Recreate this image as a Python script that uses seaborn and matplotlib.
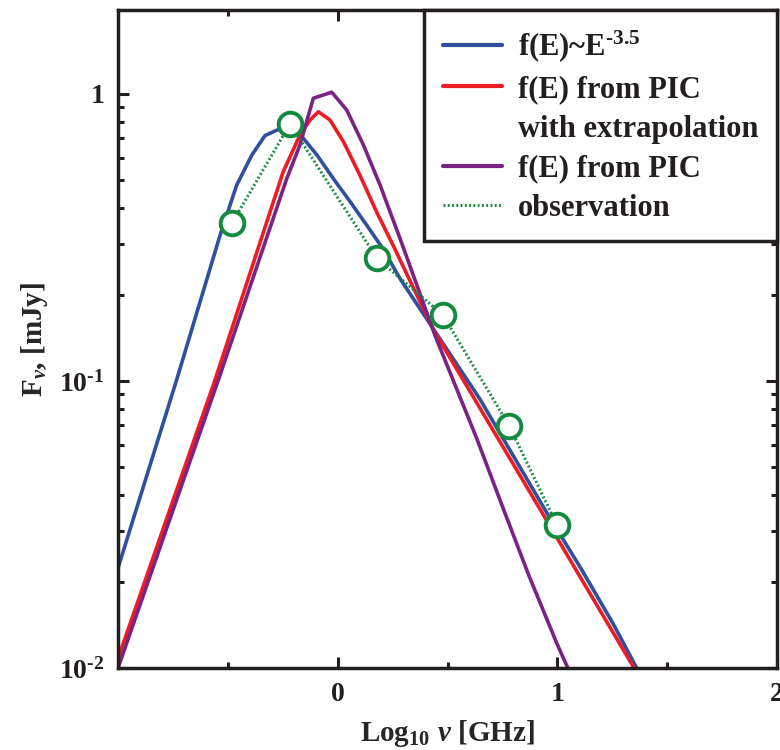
import numpy as np
import pandas as pd
import matplotlib
matplotlib.use("Agg")
import matplotlib.pyplot as plt
from matplotlib.lines import Line2D
from matplotlib.ticker import FixedLocator, LogLocator, NullFormatter
import seaborn as sns

# ==============================================================================
# DADOS
# ==============================================================================
# f(E) ~ E^-3.5
x_pl = [-1.0, -0.733, -0.536, -0.460, -0.391, -0.331, -0.277, -0.217, -0.156,
        -0.094, -0.020, 0.056, 0.133, 0.207, 0.284, 0.435, 0.648, 0.951,
        1.103, 1.253, 1.361, 1.45]
f_pl = [0.0223, 0.101, 0.321, 0.481, 0.612, 0.716, 0.748, 0.780, 0.700,
        0.612, 0.507, 0.422, 0.348, 0.288, 0.227, 0.152, 0.0863, 0.0348,
        0.0225, 0.0143, 0.0100, 0.0077]

# f(E) from PIC with extrapolation
x_ext = [-1.0, -0.558, -0.248, -0.172, -0.126, -0.088, -0.035, 0.026, 0.101,
         0.177, 0.253, 0.435, 0.951, 1.349, 1.45]
f_ext = [0.0108, 0.101, 0.536, 0.719, 0.811, 0.867, 0.811, 0.682, 0.521,
         0.388, 0.296, 0.151, 0.0327, 0.0100, 0.0074]

# f(E) from PIC
x_pic = [-1.0, -0.543, -0.232, -0.172, -0.111, -0.088, -0.027, 0.041, 0.117,
         0.193, 0.284, 0.443, 0.633, 0.746, 0.868, 0.997, 1.050, 1.10]
f_pic = [0.0100, 0.101, 0.507, 0.664, 0.966, 0.979, 1.014, 0.879, 0.664,
         0.481, 0.313, 0.144, 0.0630, 0.0372, 0.0212, 0.0122, 0.0099, 0.0080]

# observation
x_obs = [-0.480, -0.217, 0.178, 0.478, 0.781, 0.997]
f_obs = [0.356, 0.786, 0.268, 0.170, 0.0697, 0.0316]

# rotulos
legend_labels = [
    "f(E)~E$^{\u20103.5}$",
    "f(E) from PIC",
    "with extrapolation",
    "f(E) from PIC",
    "observation",
]
xtick_labels = ["0", "1", "2"]
ytick_labels = ["10$^{\u20102}$", "10$^{\u20101}$", "1"]

# ==============================================================================
# ESTILO
# ==============================================================================
sns.set_theme(style="ticks")
plt.rcParams.update({
    "font.family": ["Liberation Serif", "DejaVu Serif"],
    "font.weight": "bold",
    "mathtext.fontset": "custom",
    "mathtext.rm": "Liberation Serif:bold",
    "mathtext.bf": "Liberation Serif:bold",
    "mathtext.it": "Liberation Serif:italic:bold",
    "axes.linewidth": 2.5,
    "axes.edgecolor": "#231f20",
    "text.color": "#231f20",
    "xtick.color": "#231f20",
    "ytick.color": "#231f20",
})

C_BLUE = "#2f4f9f"
C_RED = "#ed1c24"
C_PURPLE = "#7a2383"
C_GREEN = "#138a3e"

fig = plt.figure(figsize=(7.8, 7.5), dpi=100)
ax = fig.add_axes([0.1513, 0.1093, 0.845, 0.8773])

lw = 2.6
sns.lineplot(x=x_pl, y=f_pl, color=C_BLUE, linewidth=lw, ax=ax, sort=False)
sns.lineplot(x=x_ext, y=f_ext, color=C_RED, linewidth=lw, ax=ax, sort=False)
sns.lineplot(x=x_pic, y=f_pic, color=C_PURPLE, linewidth=lw, ax=ax, sort=False)
sns.lineplot(x=x_obs, y=f_obs, color=C_GREEN, linewidth=2.2, ax=ax, sort=False,
             linestyle=(0, (0.6, 0.8)))
ax.plot(x_obs, f_obs, linestyle="none", marker="o", markersize=17,
        markerfacecolor="white", markeredgecolor=C_GREEN, markeredgewidth=2.8,
        zorder=5)

ax.set_yscale("log")
ax.set_xlim(-1, 2)
ax.set_ylim(0.01, 1.96)

ax.xaxis.set_major_locator(FixedLocator([0, 1, 2]))
ax.xaxis.set_minor_locator(FixedLocator([-0.5, 0.5, 1.5]))
ax.set_xticklabels(xtick_labels)
ax.yaxis.set_major_locator(FixedLocator([0.01, 0.1, 1]))
ax.set_yticklabels(ytick_labels)
ax.yaxis.set_minor_locator(LogLocator(base=10, subs=np.arange(2, 10)))
ax.yaxis.set_minor_formatter(NullFormatter())

ax.tick_params(which="both", direction="in", top=True, right=True,
               width=2.2, labelsize=20)
ax.tick_params(which="major", length=8, pad=10)
ax.tick_params(which="minor", length=4.5)

ax.set_xlabel(r"Log$_{10}$ $\nu$ [GHz]", fontsize=21, fontweight="bold",
              labelpad=8)
ax.set_ylabel(r"F$_{\nu}$, [mJy]", fontsize=21, fontweight="bold", labelpad=6)

# legenda
handles = [
    Line2D([], [], color=C_BLUE, linewidth=3),
    Line2D([], [], color=C_RED, linewidth=3),
    Line2D([], [], linestyle="none"),
    Line2D([], [], color=C_PURPLE, linewidth=3),
    Line2D([], [], color=C_GREEN, linewidth=2.2, linestyle=(0, (0.6, 0.8))),
]
leg = ax.legend(handles, legend_labels, loc="upper right", bbox_to_anchor=(1, 1),
                borderaxespad=0, fontsize=22, frameon=True, fancybox=False,
                framealpha=1, edgecolor="#231f20", handlelength=1.95,
                handletextpad=0.52, labelspacing=0.35, borderpad=0.6)
leg.get_frame().set_linewidth(2.5)

fig.savefig("out.png", dpi=100)
